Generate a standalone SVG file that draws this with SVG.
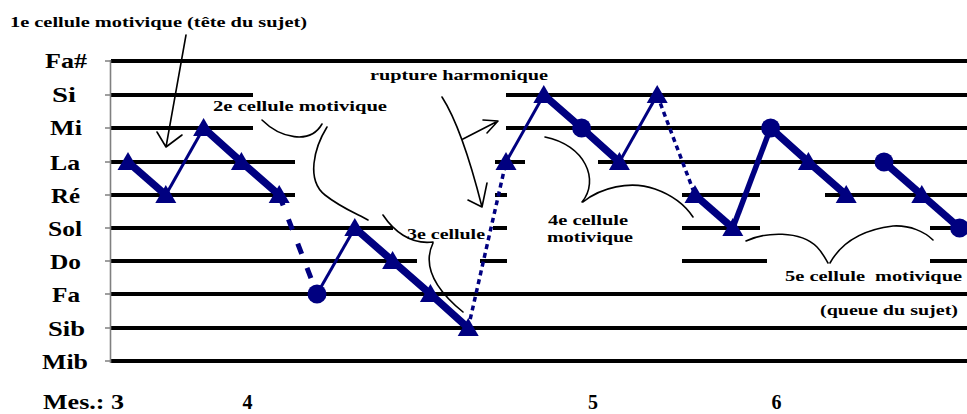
<svg xmlns="http://www.w3.org/2000/svg" width="967" height="414" viewBox="0 0 967 414">
<style>
.staff{stroke:#000;stroke-width:4;fill:none}
.axis{stroke:#808080;stroke-width:1.6;fill:none}
.lbl{font-family:"Liberation Serif","Times New Roman",serif;font-weight:bold;font-size:21px;fill:#000}
.mes{font-family:"Liberation Serif","Times New Roman",serif;font-weight:bold;font-size:20px;fill:#000}
.ann{font-family:"Liberation Serif","Times New Roman",serif;font-weight:bold;font-size:15.5px;fill:#000}
.thick{stroke:#000080;stroke-width:7.5;fill:none;stroke-linejoin:round}
.thin{stroke:#000080;stroke-width:3;fill:none}
.med{stroke:#000080;stroke-width:5.5;fill:none}
.dash{stroke:#000080;stroke-width:5;fill:none;stroke-dasharray:11 15}
.dot{stroke:#000080;stroke-width:3.5;fill:none;stroke-dasharray:5 4}
.mk{fill:#000080}
.pen{stroke:#000;stroke-width:1.6;fill:none;stroke-linecap:round;stroke-linejoin:round}
</style>
<defs>
<polygon id="tri" points="0,-10 10.5,8 -10.5,8"/>
<circle id="ball" r="9.5"/>
</defs>
<rect width="967" height="414" fill="#fff"/>
<g id="staff">
<line class="staff" x1="111" y1="61" x2="967" y2="61"/>
<line class="staff" x1="111" y1="95" x2="253" y2="95"/>
<line class="staff" x1="506" y1="95" x2="967" y2="95"/>
<line class="staff" x1="111" y1="128" x2="253" y2="128"/>
<line class="staff" x1="506" y1="128" x2="967" y2="128"/>
<line class="staff" x1="111" y1="162" x2="295" y2="162"/>
<line class="staff" x1="495" y1="162" x2="525" y2="162"/>
<line class="staff" x1="598" y1="162" x2="967" y2="162"/>
<line class="staff" x1="111" y1="195" x2="295" y2="195"/>
<line class="staff" x1="495" y1="195" x2="507" y2="195"/>
<line class="staff" x1="682" y1="195" x2="760" y2="195"/>
<line class="staff" x1="825" y1="195" x2="967" y2="195"/>
<line class="staff" x1="111" y1="228" x2="393" y2="228"/>
<line class="staff" x1="493" y1="228" x2="507" y2="228"/>
<line class="staff" x1="682" y1="228" x2="760" y2="228"/>
<line class="staff" x1="930" y1="228" x2="967" y2="228"/>
<line class="staff" x1="111" y1="261" x2="417" y2="261"/>
<line class="staff" x1="480" y1="261" x2="507" y2="261"/>
<line class="staff" x1="682" y1="261" x2="767" y2="261"/>
<line class="staff" x1="930" y1="261" x2="967" y2="261"/>
<line class="staff" x1="111" y1="294" x2="967" y2="294"/>
<line class="staff" x1="111" y1="328" x2="967" y2="328"/>
<line class="staff" x1="111" y1="361" x2="967" y2="361"/>
</g>
<g id="axis">
<line class="axis" x1="110.5" y1="60" x2="110.5" y2="363"/>
<path class="axis" d="M105,61H110M105,95H110M105,128H110M105,162H110M105,195H110M105,228H110M105,261H110M105,294H110M105,328H110M105,361H110"/>
</g>
<g id="pitch-labels" class="lbl" text-anchor="middle">
<text x="66" y="68" textLength="42" lengthAdjust="spacingAndGlyphs">Fa#</text>
<text x="64" y="102" textLength="24" lengthAdjust="spacingAndGlyphs">Si</text>
<text x="66" y="135" textLength="32" lengthAdjust="spacingAndGlyphs">Mi</text>
<text x="65" y="170" textLength="30" lengthAdjust="spacingAndGlyphs">La</text>
<text x="65.5" y="203" textLength="29" lengthAdjust="spacingAndGlyphs">Ré</text>
<text x="65" y="236" textLength="34" lengthAdjust="spacingAndGlyphs">Sol</text>
<text x="65.5" y="269" textLength="31" lengthAdjust="spacingAndGlyphs">Do</text>
<text x="66" y="302" textLength="28" lengthAdjust="spacingAndGlyphs">Fa</text>
<text x="66.5" y="336" textLength="37" lengthAdjust="spacingAndGlyphs">Sib</text>
<text x="65" y="369" textLength="46" lengthAdjust="spacingAndGlyphs">Mib</text>
</g>
<g id="measures" class="mes">
<text x="43" y="409" textLength="81" lengthAdjust="spacingAndGlyphs">Mes.: 3</text>
<text x="247.5" y="409" text-anchor="middle">4</text>
<text x="593" y="409" text-anchor="middle">5</text>
<text x="776.5" y="409" text-anchor="middle">6</text>
</g>
<g id="connectors">
<polyline class="thick" points="128,162 165.8,195"/>
<line class="thin" x1="165.8" y1="195" x2="203.6" y2="128"/>
<polyline class="thick" points="203.6,128 241.4,162 279.2,195"/>
<line class="dash" x1="279.2" y1="195" x2="317" y2="294"/>
<line class="thin" x1="317" y1="294" x2="354.8" y2="228"/>
<polyline class="thick" points="354.8,228 392.6,261 430.4,294 468.2,328"/>
<line class="dot" x1="468.2" y1="328" x2="506" y2="162"/>
<line class="thin" x1="506" y1="162" x2="543.8" y2="95"/>
<polyline class="thick" points="543.8,95 581.6,128 619.4,162"/>
<line class="thin" x1="619.4" y1="162" x2="657.2" y2="95"/>
<line class="dot" x1="657.2" y1="95" x2="695" y2="195"/>
<polyline class="thick" points="695,195 732.8,228"/>
<line class="med" x1="732.8" y1="228" x2="770.6" y2="128"/>
<polyline class="thick" points="770.6,128 808.4,162 846.2,195"/>
<polyline class="thick" points="884,162 921.8,195 959.6,228"/>
</g>
<g id="notes" class="mk">
<use href="#tri" x="128" y="162"/>
<use href="#tri" x="165.8" y="195"/>
<use href="#tri" x="203.6" y="128"/>
<use href="#tri" x="241.4" y="162"/>
<use href="#tri" x="279.2" y="195"/>
<use href="#ball" x="317" y="294"/>
<use href="#tri" x="354.8" y="228"/>
<use href="#tri" x="392.6" y="261"/>
<use href="#tri" x="430.4" y="294"/>
<use href="#tri" x="468.2" y="328"/>
<use href="#tri" x="506" y="162"/>
<use href="#tri" x="543.8" y="95"/>
<use href="#ball" x="581.6" y="128"/>
<use href="#tri" x="619.4" y="162"/>
<use href="#tri" x="657.2" y="95"/>
<use href="#tri" x="695" y="195"/>
<use href="#tri" x="732.8" y="228"/>
<use href="#ball" x="770.6" y="128"/>
<use href="#tri" x="808.4" y="162"/>
<use href="#tri" x="846.2" y="195"/>
<use href="#ball" x="884" y="162"/>
<use href="#tri" x="921.8" y="195"/>
<use href="#ball" x="959.6" y="228"/>
</g>
<g id="cell1">
<text class="ann" x="10" y="27" textLength="297" lengthAdjust="spacingAndGlyphs">1e cellule motivique (tête du sujet)</text>
<path class="pen" d="M186,35L166,147M157,132L166,147L182,135"/>
</g>
<g id="cell2">
<text class="ann" x="213" y="111" textLength="174" lengthAdjust="spacingAndGlyphs">2e cellule motivique</text>
<path class="pen" d="M262,120C280,138 310,145 322,124M327,127C314,148 306,180 325,195C340,207 355,213 368,220"/>
</g>
<g id="cell3">
<text class="ann" x="407" y="239" textLength="78" lengthAdjust="spacingAndGlyphs">3e cellule</text>
<path class="pen" d="M383,215C393,230 410,245 433,242M433,243C424,262 430,285 463,312"/>
</g>
<g id="rupture">
<text class="ann" x="370" y="80" textLength="178" lengthAdjust="spacingAndGlyphs">rupture harmonique</text>
<path class="pen" d="M442,97Q462,128 482,207M468,200L482,207L487,183M463,139L498,121M483,120L498,121L487,133"/>
</g>
<g id="cell4">
<text class="ann" x="548" y="225" textLength="80" lengthAdjust="spacingAndGlyphs">4e cellule</text>
<text class="ann" x="547" y="242" textLength="86" lengthAdjust="spacingAndGlyphs">motivique</text>
<path class="pen" d="M545,137C585,145 600,180 582,202M583,202C600,188 630,180 655,189C672,195 685,205 693,217"/>
</g>
<g id="cell5">
<text class="ann"><tspan x="785" y="281" textLength="80" lengthAdjust="spacingAndGlyphs">5e cellule</tspan> <tspan x="875" y="281" textLength="87" lengthAdjust="spacingAndGlyphs">motivique</tspan></text>
<text class="ann" x="820" y="315" textLength="138" lengthAdjust="spacingAndGlyphs">(queue du sujet)</text>
<path class="pen" d="M746,241C765,232 800,230 817,247C822,252 825,258 828,263M830,263C840,245 860,230 893,226C910,225 925,232 933,240"/>
</g>
</svg>
